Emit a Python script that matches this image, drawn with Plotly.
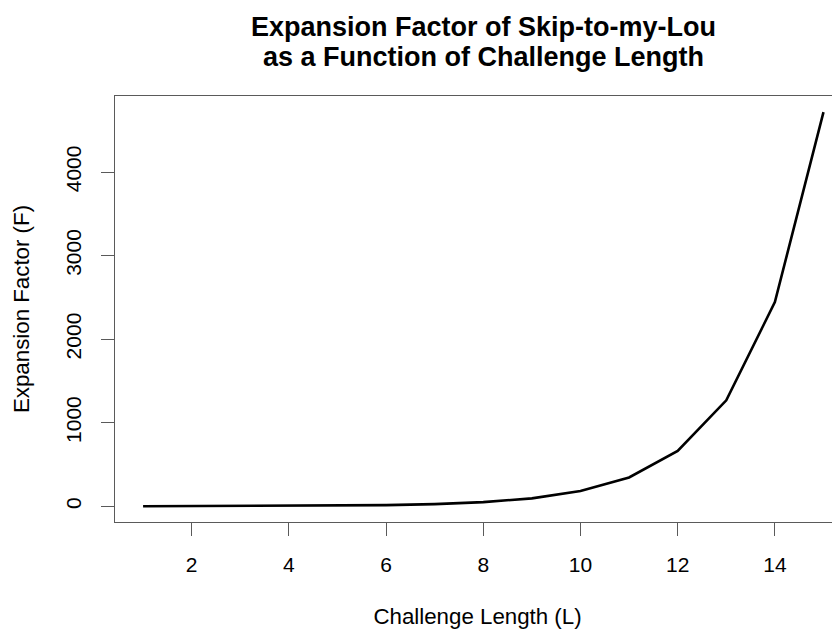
import plotly.graph_objects as go

challenge_length = list(range(1, 16))
expansion_factor = [1, 2, 3, 5, 8, 14, 26, 50, 95, 182, 345, 662, 1268, 2444, 4717]
x_ticks = [2, 4, 6, 8, 10, 12, 14]
y_ticks = [0, 1000, 2000, 3000, 4000]

title_lines = ["Expansion Factor of Skip-to-my-Lou", "as a Function of Challenge Length"]
x_title = "Challenge Length (L)"
y_title = "Expansion Factor (F)"

FONT = "Liberation Sans, Arial, Helvetica, sans-serif"
AXC = "#5a5a5a"
TICKF = dict(family=FONT, size=21, color="black")
TITLEF = dict(family=FONT, size=22.3, color="black")

fig = go.Figure()
fig.add_trace(go.Scatter(
    x=challenge_length, y=expansion_factor, mode="lines",
    line=dict(color="black", width=2.6), showlegend=False, hoverinfo="skip",
))

# page body has an 8px margin; figure is sized/offset to compensate
fig.update_layout(
    width=832, height=622,
    margin=dict(l=107, r=0, t=88, b=108, pad=0),
    paper_bgcolor="white", plot_bgcolor="white",
    font=dict(family=FONT, size=19, color="black"),
    xaxis=dict(
        range=[0.422, 15.34], tickmode="array", tickvals=x_ticks,
        ticktext=[str(v) for v in x_ticks], tickfont=TICKF,
        showgrid=False, zeroline=False, showline=True, mirror=True,
        linecolor=AXC, linewidth=1.4, ticks="outside", ticklen=13,
        tickcolor=AXC, tickwidth=1.4, ticklabelstandoff=11,
        title=dict(text=x_title, standoff=32, font=TITLEF),
    ),
    yaxis=dict(
        range=[-188, 4910], tickmode="array", tickvals=y_ticks,
        ticktext=[str(v) for v in y_ticks], tickangle=-90, tickfont=TICKF,
        showgrid=False, zeroline=False, showline=True, mirror=False,
        linecolor=AXC, linewidth=1.4, ticks="outside", ticklen=13,
        tickcolor=AXC, tickwidth=1.4, ticklabelstandoff=11,
        title=dict(text=y_title, standoff=26, font=TITLEF),
    ),
)

title_y = [1.1624, 1.0904]
for txt, yy in zip(title_lines, title_y):
    fig.add_annotation(
        text=txt, xref="paper", yref="paper", x=0.508, y=yy,
        xanchor="center", yanchor="middle", showarrow=False,
        font=dict(family=FONT, size=27, color="black", weight="bold"),
    )

fig.write_html("out.html")
